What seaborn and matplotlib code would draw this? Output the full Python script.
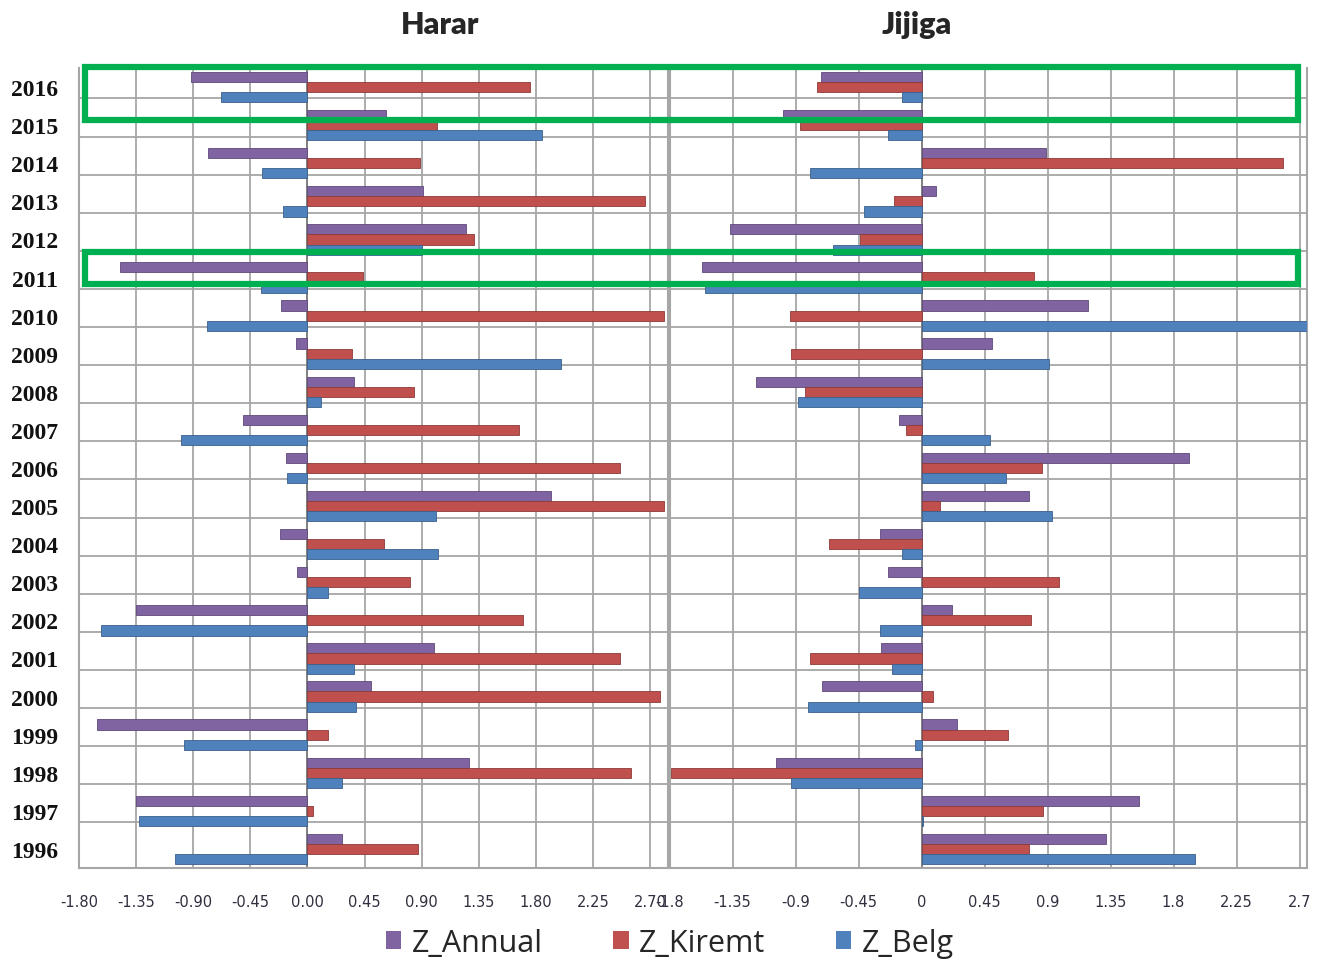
import numpy as np
import pandas as pd
import matplotlib
matplotlib.use("Agg")
import matplotlib.pyplot as plt
from matplotlib.patches import Rectangle, Patch
from matplotlib.transforms import blended_transform_factory
import seaborn as sns

# Standardised anomalies per year (top row first: 2016 down to 1996)
years = ["2016", "2015", "2014", "2013", "2012", "2011", "2010", "2009", "2008",
         "2007", "2006", "2005", "2004", "2003", "2002", "2001", "2000", "1999",
         "1998", "1997", "1996"]
series = ["Z_Annual", "Z_Kiremt", "Z_Belg"]

harar_annual = [-0.92, 0.62, -0.78, 0.91, 1.25, -1.48, -0.21, -0.09, 0.37, -0.51,
                -0.17, 1.92, -0.22, -0.08, -1.35, 1.00, 0.50, -1.66, 1.27, -1.35, 0.27]
harar_kiremt = [1.75, 1.02, 0.89, 2.66, 1.31, 0.44, 2.81, 0.35, 0.84, 1.67,
                2.46, 2.81, 0.60, 0.81, 1.70, 2.46, 2.78, 0.16, 2.55, 0.04, 0.87]
harar_belg = [-0.68, 1.85, -0.36, -0.19, 0.90, -0.37, -0.79, 2.00, 0.11, -1.00,
              -0.16, 1.01, 1.03, 0.16, -1.63, 0.37, 0.38, -0.97, 0.27, -1.33, -1.04]

jijiga_annual = [-0.72, -0.99, 0.89, 0.10, -1.37, -1.57, 1.19, 0.50, -1.18, -0.16,
                 1.91, 0.77, -0.30, -0.24, 0.22, -0.29, -0.71, 0.25, -1.04, 1.55, 1.32]
jijiga_kiremt = [-0.75, -0.87, 2.58, -0.20, -0.44, 0.80, -0.94, -0.93, -0.83, -0.11,
                 0.86, 0.13, -0.66, 0.98, 0.78, -0.80, 0.08, 0.62, -1.79, 0.87, 0.77]
jijiga_belg = [-0.14, -0.24, -0.80, -0.41, -0.63, -1.55, 2.75, 0.91, -0.88, 0.49,
               0.60, 0.93, -0.14, -0.45, -0.30, -0.21, -0.81, -0.05, -0.93, 0.01, 1.95]

harar_ticks = [-1.80, -1.35, -0.90, -0.45, 0.00, 0.45, 0.90, 1.35, 1.80, 2.25, 2.70]
harar_ticklabels = ["-1.80", "-1.35", "-0.90", "-0.45", "0.00", "0.45", "0.90",
                    "1.35", "1.80", "2.25", "2.70"]
jijiga_ticks = [-1.8, -1.35, -0.9, -0.45, 0, 0.45, 0.9, 1.35, 1.8, 2.25, 2.7]
jijiga_ticklabels = ["-1.8", "-1.35", "-0.9", "-0.45", "0", "0.45", "0.9",
                     "1.35", "1.8", "2.25", "2.7"]

colors = {"Z_Annual": "#8064A2", "Z_Kiremt": "#C0504D", "Z_Belg": "#4F81BD"}
edges = {"Z_Annual": "#5E4A7A", "Z_Kiremt": "#8E3A38", "Z_Belg": "#3A608C"}


def long_frame(annual, kiremt, belg):
    return pd.DataFrame({
        "year": years * 3,
        "series": np.repeat(series, len(years)),
        "value": list(annual) + list(kiremt) + list(belg),
    })


sns.set_theme(style="white")
plt.rcParams["font.family"] = ["DejaVu Sans"]

fig = plt.figure(figsize=(13.19, 9.62), dpi=100)
W, H = 1319, 962

ax_h = fig.add_axes([79 / W, 1 - 869 / H, 589 / W, 800 / H])
ax_j = fig.add_axes([669.5 / W, 1 - 869 / H, 637 / W, 800 / H])

panels = [
    (ax_h, long_frame(harar_annual, harar_kiremt, harar_belg), (-1.8, 2.84),
     harar_ticks, harar_ticklabels),
    (ax_j, long_frame(jijiga_annual, jijiga_kiremt, jijiga_belg), (-1.8, 2.75),
     jijiga_ticks, jijiga_ticklabels),
]

grid_col = "#A6A6A6"
for ax, df, lims, ticks, labels in panels:
    sns.barplot(data=df, x="value", y="year", hue="series", order=years,
                hue_order=series, palette=colors, orient="h", width=0.8,
                saturation=1, legend=False, ax=ax, zorder=3)
    for patch, s in zip(ax.patches, np.repeat(series, len(years))):
        patch.set_edgecolor(edges[s])
        patch.set_linewidth(0.6)
    ax.set_xlim(*lims)
    ax.set_ylim(len(years) - 0.5, -0.5)
    ax.set_xticks(ticks)
    ax.set_xticklabels(labels, family=["Liberation Sans Narrow", "DejaVu Sans"],
                       fontsize=10.5, color="#2F2F3F")
    # back-wall gridlines sit slightly above the category boundaries
    ax.set_yticks(np.arange(1, len(years)) - 0.7, minor=True)
    ax.grid(True, axis="x", which="major", color=grid_col, linewidth=1.3, zorder=0)
    ax.grid(True, axis="y", which="minor", color=grid_col, linewidth=1.3, zorder=0)
    ax.grid(False, axis="y", which="major")
    ax.axvline(0, color="#7F7F7F", linewidth=1.3, zorder=2)
    ax.set_xlabel("")
    ax.set_ylabel("")
    ax.tick_params(axis="x", length=5, width=1, color=grid_col, pad=14)
    ax.tick_params(axis="y", which="both", length=0)
    for side in ["left", "right", "bottom"]:
        ax.spines[side].set_color(grid_col)
        ax.spines[side].set_linewidth(1.5)
    ax.spines["top"].set_visible(False)
    ax.set_facecolor("white")

ax_h.set_yticks(range(len(years)))
ax_h.set_yticklabels(years, family=["Liberation Serif", "DejaVu Serif"],
                     fontweight="bold", fontsize=17, color="#111111")
ax_h.tick_params(axis="y", pad=15)
ax_j.set_yticks(range(len(years)))
ax_j.set_yticklabels([])

# Panel titles
fig.text(440 / W, 1 - 25 / H, "Harar", ha="center", va="center",
         family=["Lato", "DejaVu Sans"], fontweight="heavy", fontsize=22)
fig.text(917 / W, 1 - 25 / H, "Jijiga", ha="center", va="center",
         family=["Lato", "DejaVu Sans"], fontweight="heavy", fontsize=22)

# Highlight boxes across both panels (2016-2015 and 2011)
tr = blended_transform_factory(fig.transFigure, ax_h.transData)
for y0, y1 in [(-0.53, 0.87), (4.33, 5.17)]:
    fig.add_artist(Rectangle((85 / W, y0), (1298 - 85) / W, y1 - y0,
                             transform=tr, fill=False, edgecolor="#00B050",
                             linewidth=4.5, clip_on=False, zorder=10))

handles = [Patch(facecolor=colors[s], edgecolor="none", label=s) for s in series]
fig.legend(handles=handles, loc="center", bbox_to_anchor=(670 / W, 1 - 944 / H),
           ncol=3, frameon=False, handlelength=0.5, handleheight=0.5,
           handletextpad=0.35, columnspacing=2.3,
           prop={"family": ["Open Sans", "DejaVu Sans"], "size": 22})

fig.savefig("out.png", dpi=100, facecolor="white")
